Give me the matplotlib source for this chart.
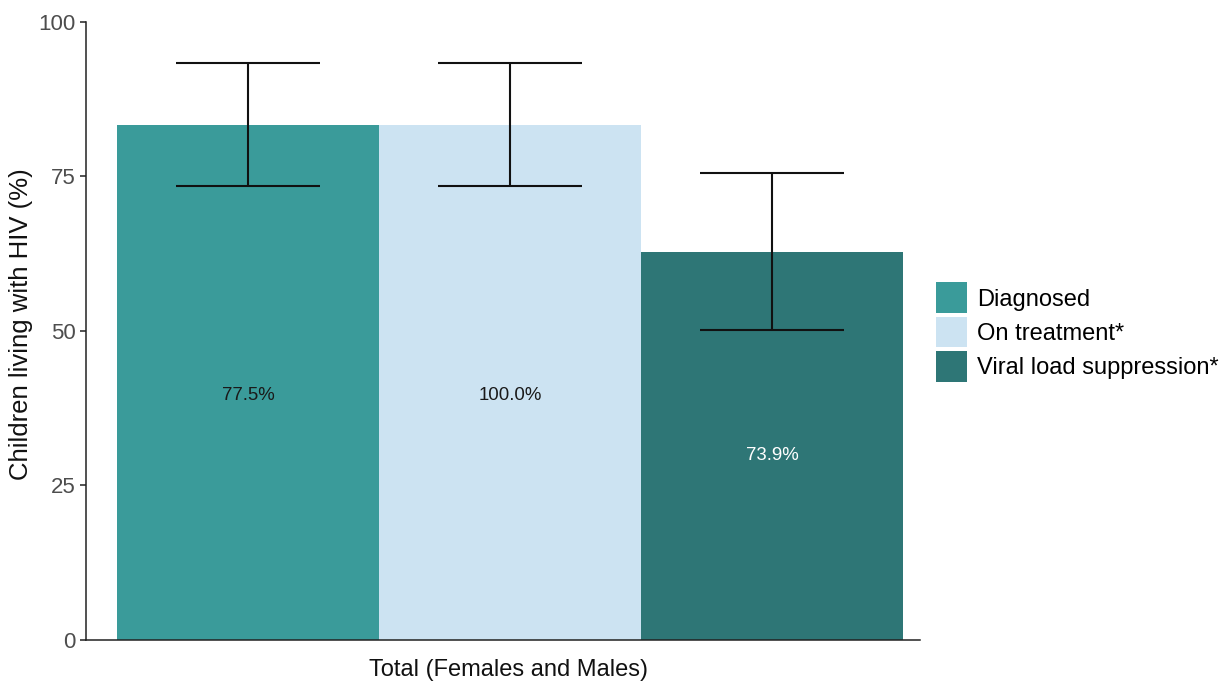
import matplotlib
matplotlib.use("Agg")
import matplotlib.pyplot as plt
from matplotlib.patches import Patch

plt.rcParams['font.family'] = ['Liberation Sans', 'DejaVu Sans']

# Cascade data
categories = ["Diagnosed", "On treatment*", "Viral load suppression*"]
bar_values = [83.3, 83.3, 62.8]
ci_lower = [73.5, 73.5, 50.1]
ci_upper = [93.4, 93.4, 75.6]
bar_labels = ["77.5%", "100.0%", "73.9%"]
label_colors = ["#1a1a1a", "#1a1a1a", "#ffffff"]
colors = ["#3a9b9a", "#cce3f2", "#2e7676"]
y_ticks = [0, 25, 50, 75, 100]
x_title = "Total (Females and Males)"
y_title = "Children living with HIV (%)"

fig = plt.figure(figsize=(12.2, 6.82), dpi=100)
ax = fig.add_axes([0.0705, 0.0616, 0.6836, 0.9062])

x = list(range(len(categories)))
ax.bar(x, bar_values, width=1.0, color=colors, edgecolor='none', zorder=1)

err_low = [v - lo for v, lo in zip(bar_values, ci_lower)]
err_high = [hi - v for v, hi in zip(bar_values, ci_upper)]
ax.errorbar(x, bar_values, yerr=[err_low, err_high], fmt='none',
            ecolor='#111111', elinewidth=1.5, capsize=52, capthick=1.5, zorder=3)

for xi, v, lab, c in zip(x, bar_values, bar_labels, label_colors):
    ax.text(xi, v * 0.475, lab, ha='center', va='center', fontsize=13.4, color=c, zorder=4)

ax.set_xlim(-0.618, 2.565)
ax.set_ylim(0, 100)
ax.set_yticks(y_ticks)
ax.set_yticklabels([str(t) for t in y_ticks])
ax.set_xticks([])
ax.tick_params(axis='y', labelsize=16, labelcolor='#4d4d4d', color='#222222',
               length=4.5, width=1.1, pad=3)
for side in ['top', 'right']:
    ax.spines[side].set_visible(False)
for side in ['left', 'bottom']:
    ax.spines[side].set_linewidth(1.1)
    ax.spines[side].set_color('#222222')

ax.set_xlabel(x_title, fontsize=17, color='#111111')
ax.set_ylabel(y_title, fontsize=18.5, color='#111111')
ax.xaxis.set_label_coords(0.506, -0.030)
ax.yaxis.set_label_coords(-0.064, 0.511)

handles = [Patch(facecolor=c, edgecolor='none') for c in colors]
fig.legend(handles, categories, loc='center left',
           bbox_to_anchor=(936 / 1220, 1 - 332 / 682), frameon=False,
           fontsize=17, borderpad=0, borderaxespad=0,
           handlelength=1.31, handleheight=1.62, handletextpad=0.42,
           labelspacing=0.15)

fig.savefig("out.png", dpi=100, facecolor='white')
